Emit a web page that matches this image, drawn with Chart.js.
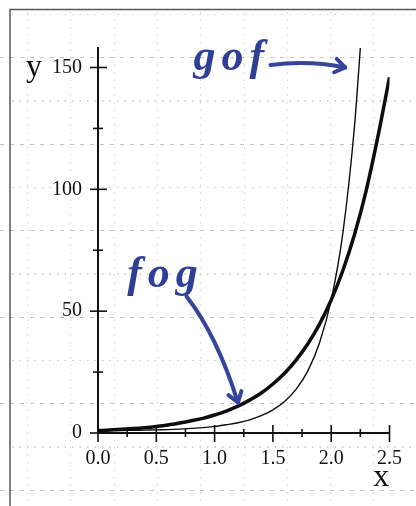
<!DOCTYPE html>
<html>
<head>
<meta charset="utf-8">
<script src="https://cdn.jsdelivr.net/npm/chart.js@4.4.1/dist/chart.umd.min.js"></script>
<style>
  html, body { margin: 0; padding: 0; background: #ffffff; }
  #wrap { position: relative; width: 416px; height: 506px; }
</style>
</head>
<body>
<div id="wrap"><canvas id="c"></canvas></div>
<script>
// ---- data ----
const fogX = [0.0, 0.1, 0.2, 0.3, 0.4, 0.5, 0.6, 0.7, 0.8, 0.9, 1.0, 1.1, 1.2, 1.3, 1.4, 1.5, 1.6, 1.7, 1.8, 1.9, 2.0, 2.1, 2.2, 2.3, 2.4, 2.5];
const fogValues = [1.0, 1.2, 1.5, 1.8, 2.2, 2.7, 3.3, 4.1, 5.0, 6.0, 7.4, 9.0, 11.0, 13.5, 16.4, 20.1, 24.5, 30.0, 36.6, 44.7, 54.6, 66.7, 81.5, 99.5, 121.5, 146.0];
const gofX = [0.0, 0.1, 0.2, 0.3, 0.4, 0.5, 0.6, 0.7, 0.8, 0.9, 1.0, 1.1, 1.2, 1.3, 1.4, 1.5, 1.6, 1.7, 1.8, 1.9, 2.0, 2.1, 2.2, 2.25];
const gofValues = [1.0, 1.0, 1.0, 1.1, 1.2, 1.3, 1.4, 1.6, 1.9, 2.2, 2.7, 3.4, 4.2, 5.4, 7.1, 9.5, 12.9, 18.0, 25.5, 37.0, 54.6, 82.0, 126.0, 158.0];

const xTickValues = [0.0, 0.5, 1.0, 1.5, 2.0, 2.5];
const xTickLabels = ['0.0', '0.5', '1.0', '1.5', '2.0', '2.5'];
const xMinorTicks = [0.25, 0.75, 1.25, 1.75, 2.25];
const yTickValues = [0, 50, 100, 150];
const yTickLabels = ['0', '50', '100', '150'];
const yMinorTicks = [25, 75, 125];
const xMin = 0, xMax = 2.5, yMin = 0, yMax = 158;

// handwritten notes, anchored in data units
const noteTexts = ['gof', 'fog'];
const noteX = [0.82, 0.25];
const noteY = [149, 60];
const arrowFrom = [[1.48, 151], [0.76, 56]];
const arrowCtrl = [[1.80, 153], [1.02, 40]];
const arrowTo = [[2.12, 150], [1.2, 12.5]];

const toPoints = (xs, ys) => xs.map((x, i) => ({ x: x, y: ys[i] }));

const paperPlugin = {
  id: 'paper',
  beforeDraw(chart) {
    const ctx = chart.ctx, W = chart.width, H = chart.height;
    ctx.save();
    ctx.fillStyle = '#ffffff';
    ctx.fillRect(0, 0, W, H);
    ctx.strokeStyle = '#d2d2d2';
    ctx.lineWidth = 1;
    ctx.setLineDash([1.5, 6]);
    for (let x = 27; x < W; x += 43.3) {
      ctx.beginPath(); ctx.moveTo(Math.round(x) + 0.5, 12); ctx.lineTo(Math.round(x) + 0.5, H); ctx.stroke();
    }
    for (let y = 14; y < H; y += 86.5) {
      ctx.beginPath(); ctx.moveTo(12, Math.round(y) + 0.5); ctx.lineTo(W, Math.round(y) + 0.5); ctx.stroke();
    }
    for (let y = 100; y < H; y += 86.5) {
      ctx.beginPath(); ctx.moveTo(12, Math.round(y) + 0.5); ctx.lineTo(W, Math.round(y) + 0.5); ctx.stroke();
    }
    ctx.strokeStyle = '#c4c4c4';
    ctx.setLineDash([4, 6]);
    for (let y = 57; y < H; y += 86.5) {
      ctx.beginPath(); ctx.moveTo(0, Math.round(y) + 0.5); ctx.lineTo(W, Math.round(y) + 0.5); ctx.stroke();
    }
    ctx.setLineDash([]);
    ctx.strokeStyle = '#5a5a5a';
    ctx.lineWidth = 1.5;
    ctx.beginPath(); ctx.moveTo(10, H); ctx.lineTo(10, 9.5); ctx.lineTo(W, 9.5); ctx.stroke();
    ctx.restore();
  }
};

const axisDecor = {
  id: 'axisDecor',
  afterDatasetsDraw(chart) {
    const ctx = chart.ctx, xs = chart.scales.x, ys = chart.scales.y;
    const x0 = xs.getPixelForValue(0), y0 = ys.getPixelForValue(0);
    ctx.save();
    ctx.strokeStyle = '#111';
    ctx.lineWidth = 1.6;
    xTickValues.forEach(v => { const p = xs.getPixelForValue(v); ctx.beginPath(); ctx.moveTo(p, y0 - 8); ctx.lineTo(p, y0 + 9); ctx.stroke(); });
    xMinorTicks.forEach(v => { const p = xs.getPixelForValue(v); ctx.beginPath(); ctx.moveTo(p, y0 - 4); ctx.lineTo(p, y0 + 4); ctx.stroke(); });
    yTickValues.forEach(v => { const p = ys.getPixelForValue(v); ctx.beginPath(); ctx.moveTo(x0 - 8, p); ctx.lineTo(x0 + 9, p); ctx.stroke(); });
    yMinorTicks.forEach(v => { const p = ys.getPixelForValue(v); ctx.beginPath(); ctx.moveTo(x0 - 5, p); ctx.lineTo(x0 + 5, p); ctx.stroke(); });
    ctx.fillStyle = '#111';
    ctx.textBaseline = 'alphabetic';
    ctx.font = '32px "Liberation Serif", serif';
    ctx.textAlign = 'left';
    ctx.fillText('y', 26, ys.getPixelForValue(150) + 9);
    ctx.textAlign = 'center';
    ctx.fillText('x', xs.getPixelForValue(2.43), y0 + 53);

    ctx.fillStyle = '#2f3f95';
    ctx.strokeStyle = '#34459b';
    ctx.font = 'italic bold 44px "Liberation Serif", serif';
    ctx.textAlign = 'left';
    try { ctx.letterSpacing = '6px'; } catch (e) {}
    noteTexts.forEach((t, i) => ctx.fillText(t, xs.getPixelForValue(noteX[i]), ys.getPixelForValue(noteY[i])));
    try { ctx.letterSpacing = '0px'; } catch (e) {}
    ctx.lineWidth = 4;
    ctx.lineCap = 'round';
    ctx.lineJoin = 'round';
    arrowFrom.forEach((f, i) => {
      const ax = xs.getPixelForValue(f[0]), ay = ys.getPixelForValue(f[1]);
      const cx = xs.getPixelForValue(arrowCtrl[i][0]), cy = ys.getPixelForValue(arrowCtrl[i][1]);
      const bx = xs.getPixelForValue(arrowTo[i][0]), by = ys.getPixelForValue(arrowTo[i][1]);
      ctx.beginPath(); ctx.moveTo(ax, ay); ctx.quadraticCurveTo(cx, cy, bx, by); ctx.stroke();
      const ang = Math.atan2(by - cy, bx - cx);
      const L = 12, spread = 0.6;
      ctx.beginPath();
      ctx.moveTo(bx - L * Math.cos(ang - spread), by - L * Math.sin(ang - spread));
      ctx.lineTo(bx, by);
      ctx.lineTo(bx - L * Math.cos(ang + spread), by - L * Math.sin(ang + spread));
      ctx.stroke();
    });
    ctx.restore();
  }
};

new Chart(document.getElementById('c'), {
  type: 'line',
  data: {
    datasets: [
      { label: 'fog', data: toPoints(fogX, fogValues), borderColor: '#0d0d0d', borderWidth: 3.5, pointRadius: 0, cubicInterpolationMode: 'monotone', fill: false },
      { label: 'gof', data: toPoints(gofX, gofValues), borderColor: '#0d0d0d', borderWidth: 1.4, pointRadius: 0, cubicInterpolationMode: 'monotone', fill: false }
    ]
  },
  options: {
    responsive: true,
    maintainAspectRatio: false,
    animation: false,
    events: [],
    layout: { padding: { left: 0, top: 48, right: 23, bottom: 0 } },
    plugins: { legend: { display: false }, tooltip: { enabled: false } },
    scales: {
      x: {
        type: 'linear', min: xMin, max: xMax,
        grid: { display: false, drawTicks: false },
        border: { display: true, color: '#111', width: 2 },
        afterBuildTicks: s => { s.ticks = xTickValues.map(v => ({ value: v })); },
        afterFit: s => { s.height = 73; },
        ticks: {
          color: '#111', padding: 14, autoSkip: false, maxRotation: 0,
          font: { family: '"Liberation Serif", serif', size: 20 },
          callback: (v) => xTickLabels[xTickValues.indexOf(v)]
        }
      },
      y: {
        type: 'linear', min: yMin, max: yMax,
        grid: { display: false, drawTicks: false },
        border: { display: true, color: '#111', width: 2 },
        afterBuildTicks: s => { s.ticks = yTickValues.map(v => ({ value: v })); },
        afterFit: s => { s.width = 98; },
        ticks: {
          color: '#111', padding: 16, autoSkip: false,
          font: { family: '"Liberation Serif", serif', size: 20 },
          callback: (v) => yTickLabels[yTickValues.indexOf(v)]
        }
      }
    }
  },
  plugins: [paperPlugin, axisDecor]
});
</script>
</body>
</html>
